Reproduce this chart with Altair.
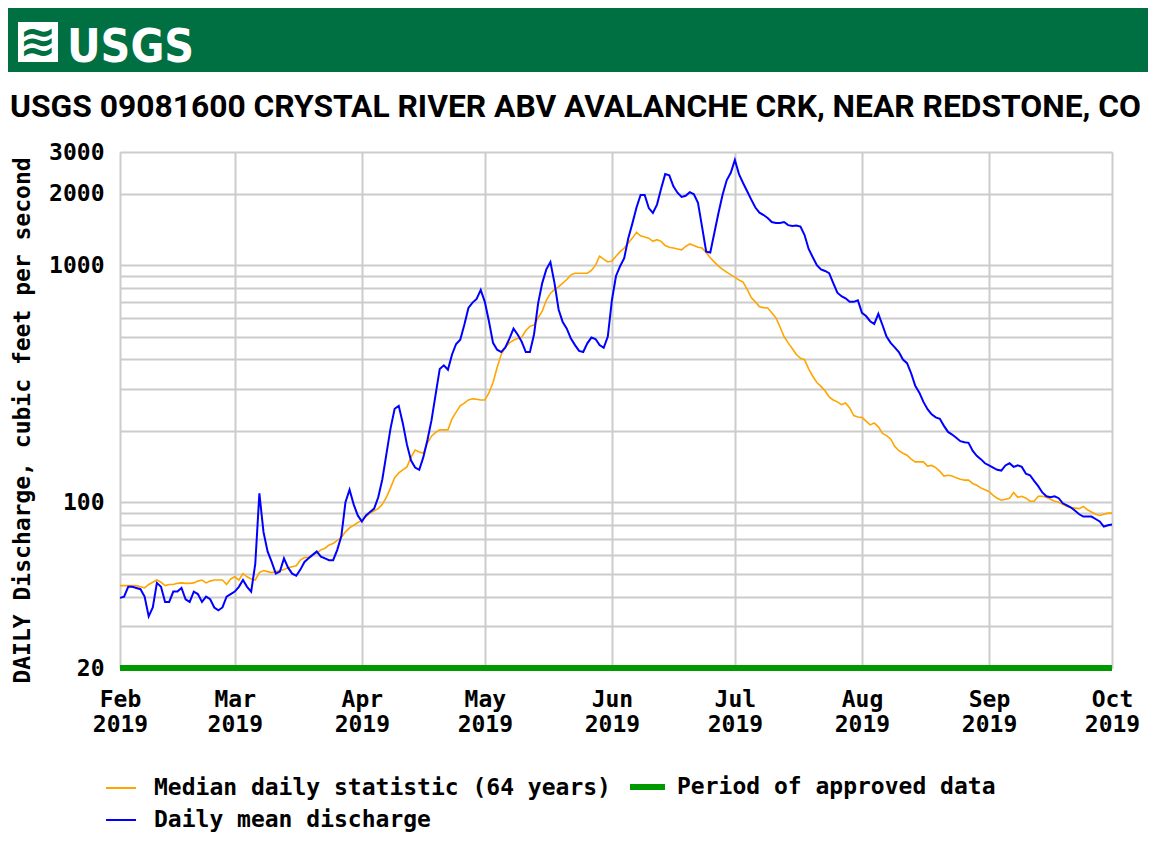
import altair as alt
import pandas as pd

# Daily mean discharge (cfs), one value per day from 2019-02-01
daily_mean = [
    39.5, 40, 44, 44, 43.5, 43, 40, 33, 36, 45.7,
    44, 38, 38, 42, 42, 43.5, 39, 38, 42, 41,
    38, 40, 39, 36, 35, 36, 40, 41, 42, 44,
    47, 44, 42, 55, 109, 75, 62, 56, 50, 51,
    58, 53, 50, 49, 52, 56, 58, 60, 62, 59,
    58, 57, 57, 63, 72, 100, 113, 98, 88, 83,
    88, 91, 94, 105, 125, 160, 205, 248, 255, 215,
    175, 150, 140, 137, 155, 183, 222, 285, 365, 378,
    362, 420, 465, 485, 560, 660, 695, 720, 786, 700,
    580, 470, 440, 430, 450, 490, 540, 510, 475, 430,
    430, 510, 690, 840, 960, 1030, 840, 650, 575, 540,
    490, 460, 435, 430, 468, 495, 488, 460, 448, 500,
    711, 900, 990, 1070, 1300, 1500, 1750, 1976, 1976, 1740,
    1660, 1800, 2100, 2420, 2390, 2150, 2020, 1940, 1960, 2030,
    1990, 1830, 1450, 1140, 1130, 1370, 1659, 1980, 2280, 2450,
    2775, 2420, 2220, 2050, 1890, 1750, 1665, 1627, 1580, 1520,
    1505, 1505, 1520, 1475, 1462, 1470, 1455, 1340, 1170, 1080,
    1000, 960, 945, 925, 840, 765, 740, 725, 700, 700,
    711, 629, 610, 580, 565, 623, 559, 500, 470, 450,
    430, 400, 386, 350, 310, 290, 265, 247, 235, 228,
    225, 210, 198, 193, 187, 181, 179, 178, 165, 157,
    152, 146, 143, 140, 137, 136, 143, 146, 141, 143,
    141, 132, 130, 123, 117, 110, 106, 105, 106, 104,
    99, 97, 95, 92, 89, 87, 87, 87, 85, 83,
    79, 80, 80.5,
]

# Median daily statistic (64 years), one value per day from 2019-02-01
median_stat = [
    44.5, 44.5, 44.5, 44.5, 44.5, 44, 43.5, 45, 46, 47,
    46, 44.5, 45, 45, 45.5, 45.7, 45.5, 45.5, 45.7, 46.5,
    47, 45.7, 46.5, 47, 47, 47, 45, 47.5, 48.5, 47,
    50, 48.5, 47.5, 47, 50.5, 51.5, 51, 50.5, 51, 51.5,
    52, 53, 53.5, 54, 57, 58.5, 58.5, 60, 61, 63,
    64, 66, 67, 69, 71, 75, 78, 80, 82, 84,
    87, 90, 92, 94, 98, 105, 115, 127, 133, 137,
    141, 155, 166, 163, 161, 178, 190, 197, 202, 202,
    202, 225, 240, 255, 262, 270, 273, 272, 270, 270,
    289, 320, 370, 420, 450, 470, 482, 490, 497, 530,
    552, 559, 600, 640, 711, 760, 790, 810, 840, 870,
    910, 924, 924, 924, 924, 950, 1000, 1090, 1060, 1031,
    1040, 1090, 1140, 1180, 1240, 1300, 1375, 1330, 1314, 1300,
    1260, 1280, 1260, 1210, 1190, 1180, 1170, 1160, 1200, 1228,
    1210, 1190, 1180, 1130, 1075, 1030, 990, 960, 935, 910,
    890, 865, 849, 790, 730, 700, 667, 662, 660, 630,
    600, 550, 500, 470, 445, 420, 405, 399, 365, 340,
    320, 308, 295, 278, 270, 265, 258, 262, 250, 232,
    229, 228, 220, 212, 216, 208, 195, 191, 185, 172,
    165, 161, 158, 152, 148, 148, 148, 142, 143, 140,
    135, 129, 130, 129, 127, 125, 124, 124, 120, 118,
    115, 113, 111, 107, 104, 102, 103, 104, 110, 105,
    106, 104, 101, 101, 106, 106, 105, 103, 101, 100,
    98, 96, 95, 94.5, 94, 96, 93, 91, 89, 88,
    89, 90, 90,
]

y_grid_values = [20, 30, 40, 50, 60, 70, 80, 90, 100, 200, 300, 400, 500,
                 600, 700, 800, 900, 1000, 2000, 3000]
y_label_values = [20, 100, 1000, 2000, 3000]
approved_period = ["2019-02-01", "2019-10-01"]

S_MED = "Median daily statistic (64 years)"
S_APP = "Period of approved data"
S_MEAN = "Daily mean discharge"

start = pd.Timestamp("2019-02-01")
dates = [(start + pd.Timedelta(days=i)).strftime("%Y-%m-%d") for i in range(len(daily_mean))]

df_mean = pd.DataFrame({"date": dates, "value": daily_mean, "series": S_MEAN})
df_med = pd.DataFrame({"date": dates[:len(median_stat)], "value": median_stat, "series": S_MED})
df_app = pd.DataFrame({"date": [approved_period[0]], "date2": [approved_period[1]],
                       "value": [20], "series": [S_APP]})

FONT = "DejaVu Sans Mono"
FS = 23
GREEN = "#009A00"

month_ticks = [alt.DateTime(year=2019, month=m, date=1, utc=True) for m in range(2, 11)]
x_scale = alt.Scale(type="utc", domain=[month_ticks[0], month_ticks[-1]])
y_scale = alt.Scale(type="log", domain=[20, 3000], nice=False)

x_axis = alt.Axis(
    values=month_ticks,
    labelExpr="[utcFormat(datum.value, '%b'), utcFormat(datum.value, '%Y')]",
    labelFont=FONT, labelFontSize=FS, labelFontWeight="bold", labelColor="black",
    labelPadding=20, labelLineHeight=25, labelAlign="center", labelFlush=False,
    labelOverlap=False, ticks=False, domain=False, grid=True,
    gridColor="#cccccc", gridWidth=2, title=None,
)
y_axis = alt.Axis(
    values=y_grid_values,
    labelExpr="indexof(%s, datum.value) >= 0 ? format(datum.value, 'd') : ''" % str(y_label_values),
    labelFont=FONT, labelFontSize=FS, labelFontWeight="bold", labelColor="black",
    labelPadding=16, labelOverlap=False, labelBaseline="middle", ticks=False, domain=False,
    grid=True, gridColor="#cccccc", gridWidth=2,
    title="DAILY Discharge, cubic feet per second",
    titleFont=FONT, titleFontSize=FS, titleFontWeight="bold", titleColor="black",
    titleX=-98, titleY=268, titleAngle=270, titleAlign="center", titleBaseline="middle",
)

legend = alt.Legend(
    title=None, orient="none", legendX=-15, legendY=620, columns=1,
    symbolType="stroke", symbolSize=900, symbolStrokeWidth=2,
    labelFont=FONT, labelFontSize=FS, labelFontWeight="bold", labelColor="black",
    labelOffset=17, labelLimit=1000, rowPadding=4, padding=0,
)
color_scale = alt.Scale(domain=[S_MED, S_MEAN], range=["#FFA500", "#0000FF"])

med_line = alt.Chart(df_med).mark_line(strokeWidth=1.6).encode(
    x=alt.X("date:T", scale=x_scale, axis=x_axis),
    y=alt.Y("value:Q", scale=y_scale, axis=y_axis),
    color=alt.Color("series:N", scale=color_scale, legend=legend),
)
mean_line = alt.Chart(df_mean).mark_line(strokeWidth=2).encode(
    x=alt.X("date:T", scale=x_scale, axis=x_axis),
    y=alt.Y("value:Q", scale=y_scale, axis=y_axis),
    color=alt.Color("series:N", scale=color_scale, legend=legend),
)
app_rule = alt.Chart(df_app).mark_rule(strokeWidth=6, color=GREEN).encode(
    x=alt.X("date:T", scale=x_scale, axis=x_axis),
    x2="date2:T",
    y=alt.Y("value:Q", scale=y_scale, axis=y_axis),
)

one = pd.DataFrame({"k": [0]})
# manual legend entry for the approved-data bar
app_key = alt.Chart(one).mark_rect(color=GREEN).encode(
    x=alt.value(510), x2=alt.value(545), y=alt.value(632), y2=alt.value(638))
app_label = alt.Chart(one).mark_text(
    text=S_APP, font=FONT, fontSize=FS, fontWeight="bold", color="black",
    align="left", baseline="middle").encode(x=alt.value(557), y=alt.value(635))

banner = alt.Chart(one).mark_rect(color="#006F41").encode(
    x=alt.value(-112), x2=alt.value(1028), y=alt.value(-144), y2=alt.value(-80))
logo_box = alt.Chart(one).mark_rect(color="white").encode(
    x=alt.value(-102), x2=alt.value(-62), y=alt.value(-130), y2=alt.value(-90))
logo_wave = alt.Chart(one).mark_text(text="≋", color="#006F41", fontSize=44, font="DejaVu Sans",
                                     fontWeight="bold", align="center", baseline="middle").encode(
    x=alt.value(-82), y=alt.value(-109))
usgs = alt.Chart(one).mark_text(text="USGS", color="white", fontSize=46,
                                font="DejaVu Sans Condensed",
                                fontWeight="bold", align="left", baseline="alphabetic").encode(
    x=alt.value(-53), y=alt.value(-90))
title = alt.Chart(one).mark_text(
    text="USGS 09081600 CRYSTAL RIVER ABV AVALANCHE CRK, NEAR REDSTONE, CO",
    color="black", fontSize=31.8, font="Roboto", fontWeight="bold",
    align="left", baseline="alphabetic").encode(x=alt.value(-110), y=alt.value(-35))

chart = alt.layer(banner, logo_box, logo_wave, usgs, title, med_line, mean_line, app_rule,
                  app_key, app_label).properties(
    width=992, height=516,
    autosize=alt.AutoSizeParams(type="none"),
    padding={"left": 112, "top": 144, "right": 37, "bottom": 181},
).configure_view(stroke="#333333", strokeWidth=2).configure(background="white")

chart.save("out.html", embed_options={"renderer": "svg", "actions": False})
